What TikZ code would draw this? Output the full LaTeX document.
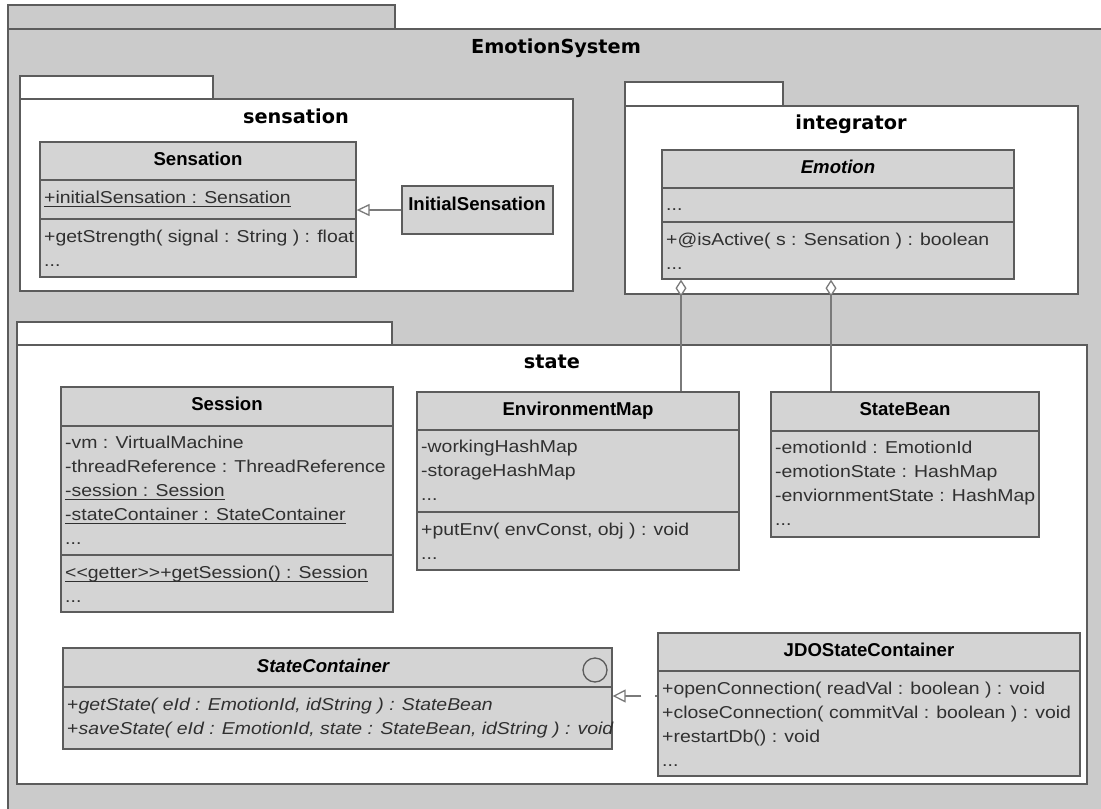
\documentclass[tikz,border=0pt]{standalone}
\usepackage{fontspec}
\setmainfont{Liberation Sans}
\newfontfamily\regf[FakeStretch=1.13]{Liberation Sans}
\newfontfamily\pkgf{DejaVu Sans}
\usetikzlibrary{arrows.meta,fit}
\definecolor{pkggrey}{HTML}{CBCBCB}
\definecolor{clsfill}{HTML}{D4D4D4}
\definecolor{bordc}{HTML}{5C5C5C}
\definecolor{linec}{HTML}{7A7A7A}
\definecolor{txtc}{HTML}{303030}
\newcommand\ulx[1]{\setbox0=\hbox{#1}\rlap{\rule[-4pt]{\wd0}{1.2pt}}\box0}
\begin{document}
\begin{tikzpicture}[x=1pt,y=-1pt,
 pkg/.style={draw=bordc, line width=1.3pt, fill=white, inner sep=0pt},
 outer/.style={draw=bordc, line width=1.3pt, fill=pkggrey, inner sep=0pt},
 cls/.style={draw=bordc, line width=1.3pt, fill=clsfill, inner sep=0pt},
 sepl/.style={draw=bordc, line width=1.3pt},
 txt/.style={inner sep=0pt, anchor=base west, text=txtc, font=\regf\fontsize{17.2}{24}\selectfont},
 hdr/.style={inner sep=0pt, anchor=base, text=black, font=\fontsize{18.6}{24}\selectfont\bfseries},
 ptitle/.style={inner sep=0pt, anchor=base, text=black, font=\pkgf\bfseries\fontsize{19.3}{24}\selectfont},
 conn/.style={draw=linec, line width=1.3pt},
]
\useasboundingbox (0,0) rectangle (1101,809);
\clip (0,0) rectangle (1101,809);
\fill[white] (0,0) rectangle (1101,809);

% outer package
\node[outer, fit={(8,5) (395,29)}] (estab) {};
\node[outer, fit={(8,29) (1130,840)}] (esbody) {};
\node[ptitle] (estitle) at (556,53) {EmotionSystem};

% sensation package
\node[pkg, fit={(20,76) (213,99)}] (sentab) {};
\node[pkg, fit={(20,99) (573,291)}] (senbody) {};
\node[ptitle] (sentitle) at (296,123) {sensation};

% integrator package
\node[pkg, fit={(625,82) (783,106)}] (inttab) {};
\node[pkg, fit={(625,106) (1078,294)}] (intbody) {};
\node[ptitle] (inttitle) at (851,129) {integrator};

% state package
\node[pkg, fit={(17,322) (392,345)}] (sttab) {};
\node[pkg, fit={(17,345) (1087,784)}] (stbody) {};
\node[ptitle] (sttitle) at (552,368) {state};

% Sensation
\node[cls, fit={(40,142) (356,277)}] (sensation) {};
\draw[sepl] (40,180) -- (356,180) (40,219) -- (356,219);
\node[hdr] (sensH) at (198,165) {Sensation};
\node[txt] (sensA1) at (44,203) {\ulx{+initialSensation : Sensation}};
\node[txt] (sensO1) at (44,242) {+getStrength( signal : String ) : float};
\node[txt] (sensO2) at (44,266) {...};

% InitialSensation
\node[cls, fit={(402,186) (553,234)}] (initsens) {};
\node[hdr] (initH) at (477,210) {InitialSensation};

% Emotion
\node[cls, fit={(662,150) (1014,279)}] (emotion) {};
\draw[sepl] (662,188) -- (1014,188) (662,222) -- (1014,222);
\node[hdr] (emoH) at (838,173) {\itshape Emotion};
\node[txt] (emoA1) at (666,210) {...};
\node[txt] (emoO1) at (666,245) {+@isActive( s : Sensation ) : boolean};
\node[txt] (emoO2) at (666,269) {...};

% Session
\node[cls, fit={(61,387) (393,612)}] (session) {};
\draw[sepl] (61,426) -- (393,426) (61,555) -- (393,555);
\node[hdr] (sesH) at (227,410) {Session};
\node[txt] (sesA1) at (65,448) {-vm : VirtualMachine};
\node[txt] (sesA2) at (65,472) {-threadReference : ThreadReference};
\node[txt] (sesA3) at (65,496) {\ulx{-session : Session}};
\node[txt] (sesA4) at (65,520) {\ulx{-stateContainer : StateContainer}};
\node[txt] (sesA5) at (65,544) {...};
\node[txt] (sesO1) at (65,578) {\ulx{<{}<getter>{}>+getSession() : Session}};
\node[txt] (sesO2) at (65,602) {...};

% EnvironmentMap
\node[cls, fit={(417,392) (739,570)}] (envmap) {};
\draw[sepl] (417,430) -- (739,430) (417,512) -- (739,512);
\node[hdr] (envH) at (578,415) {EnvironmentMap};
\node[txt] (envA1) at (421,452) {-workingHashMap};
\node[txt] (envA2) at (421,476) {-storageHashMap};
\node[txt] (envA3) at (421,500) {...};
\node[txt] (envO1) at (421,535) {+putEnv( envConst, obj ) : void};
\node[txt] (envO2) at (421,559) {...};

% StateBean
\node[cls, fit={(771,392) (1039,537)}] (statebean) {};
\draw[sepl] (771,431) -- (1039,431);
\node[hdr] (sbH) at (905,415) {StateBean};
\node[txt] (sbA1) at (775,453) {-emotionId : EmotionId};
\node[txt] (sbA2) at (775,477) {-emotionState : HashMap};
\node[txt] (sbA3) at (775,501) {-enviornmentState : HashMap};
\node[txt] (sbA4) at (775,525) {...};

% StateContainer
\node[cls, fit={(63,648) (612,749)}] (sc) {};
\draw[sepl] (63,687) -- (612,687);
\node[hdr] (scH) at (323,672) {\itshape StateContainer};
\node[circle, draw=bordc, line width=1.3pt, minimum size=24pt, inner sep=0pt] (scicon) at (595,670) {};
\node[txt] (scO1) at (67,710) {+\textit{getState( eId : EmotionId, idString ) : StateBean}};
\node[txt] (scO2) at (67,734) {+\textit{saveState( eId : EmotionId, state : StateBean, idString ) : void}};

% JDOStateContainer
\node[cls, fit={(658,633) (1080,776)}] (jdo) {};
\draw[sepl] (658,671) -- (1080,671);
\node[hdr] (jdoH) at (869,656) {JDOStateContainer};
\node[txt] (jdoO1) at (662,694) {+openConnection( readVal : boolean ) : void};
\node[txt] (jdoO2) at (662,718) {+closeConnection( commitVal : boolean ) : void};
\node[txt] (jdoO3) at (662,742) {+restartDb() : void};
\node[txt] (jdoO4) at (662,766) {...};

% connectors
\coordinate (aggA) at (681,0);
\coordinate (aggB) at (831,0);
\coordinate (rz) at (0,696);
\draw[conn, -{Diamond[fill=white, length=17pt, width=11pt]}] (envmap.north -| aggA) -- (emotion.south -| aggA);
\draw[conn, -{Diamond[fill=white, length=17pt, width=11pt]}] (statebean.north -| aggB) -- (emotion.south -| aggB);
\draw[conn, -{Triangle[fill=white, length=13pt, width=12pt]}] (initsens.west) -- (initsens.west -| sensation.east);
\draw[conn, dash pattern=on 2pt off 14pt on 80pt, -{Triangle[fill=white, length=13pt, width=13pt]}] (jdo.west |- rz) -- (sc.east |- rz);
\end{tikzpicture}
\end{document}
